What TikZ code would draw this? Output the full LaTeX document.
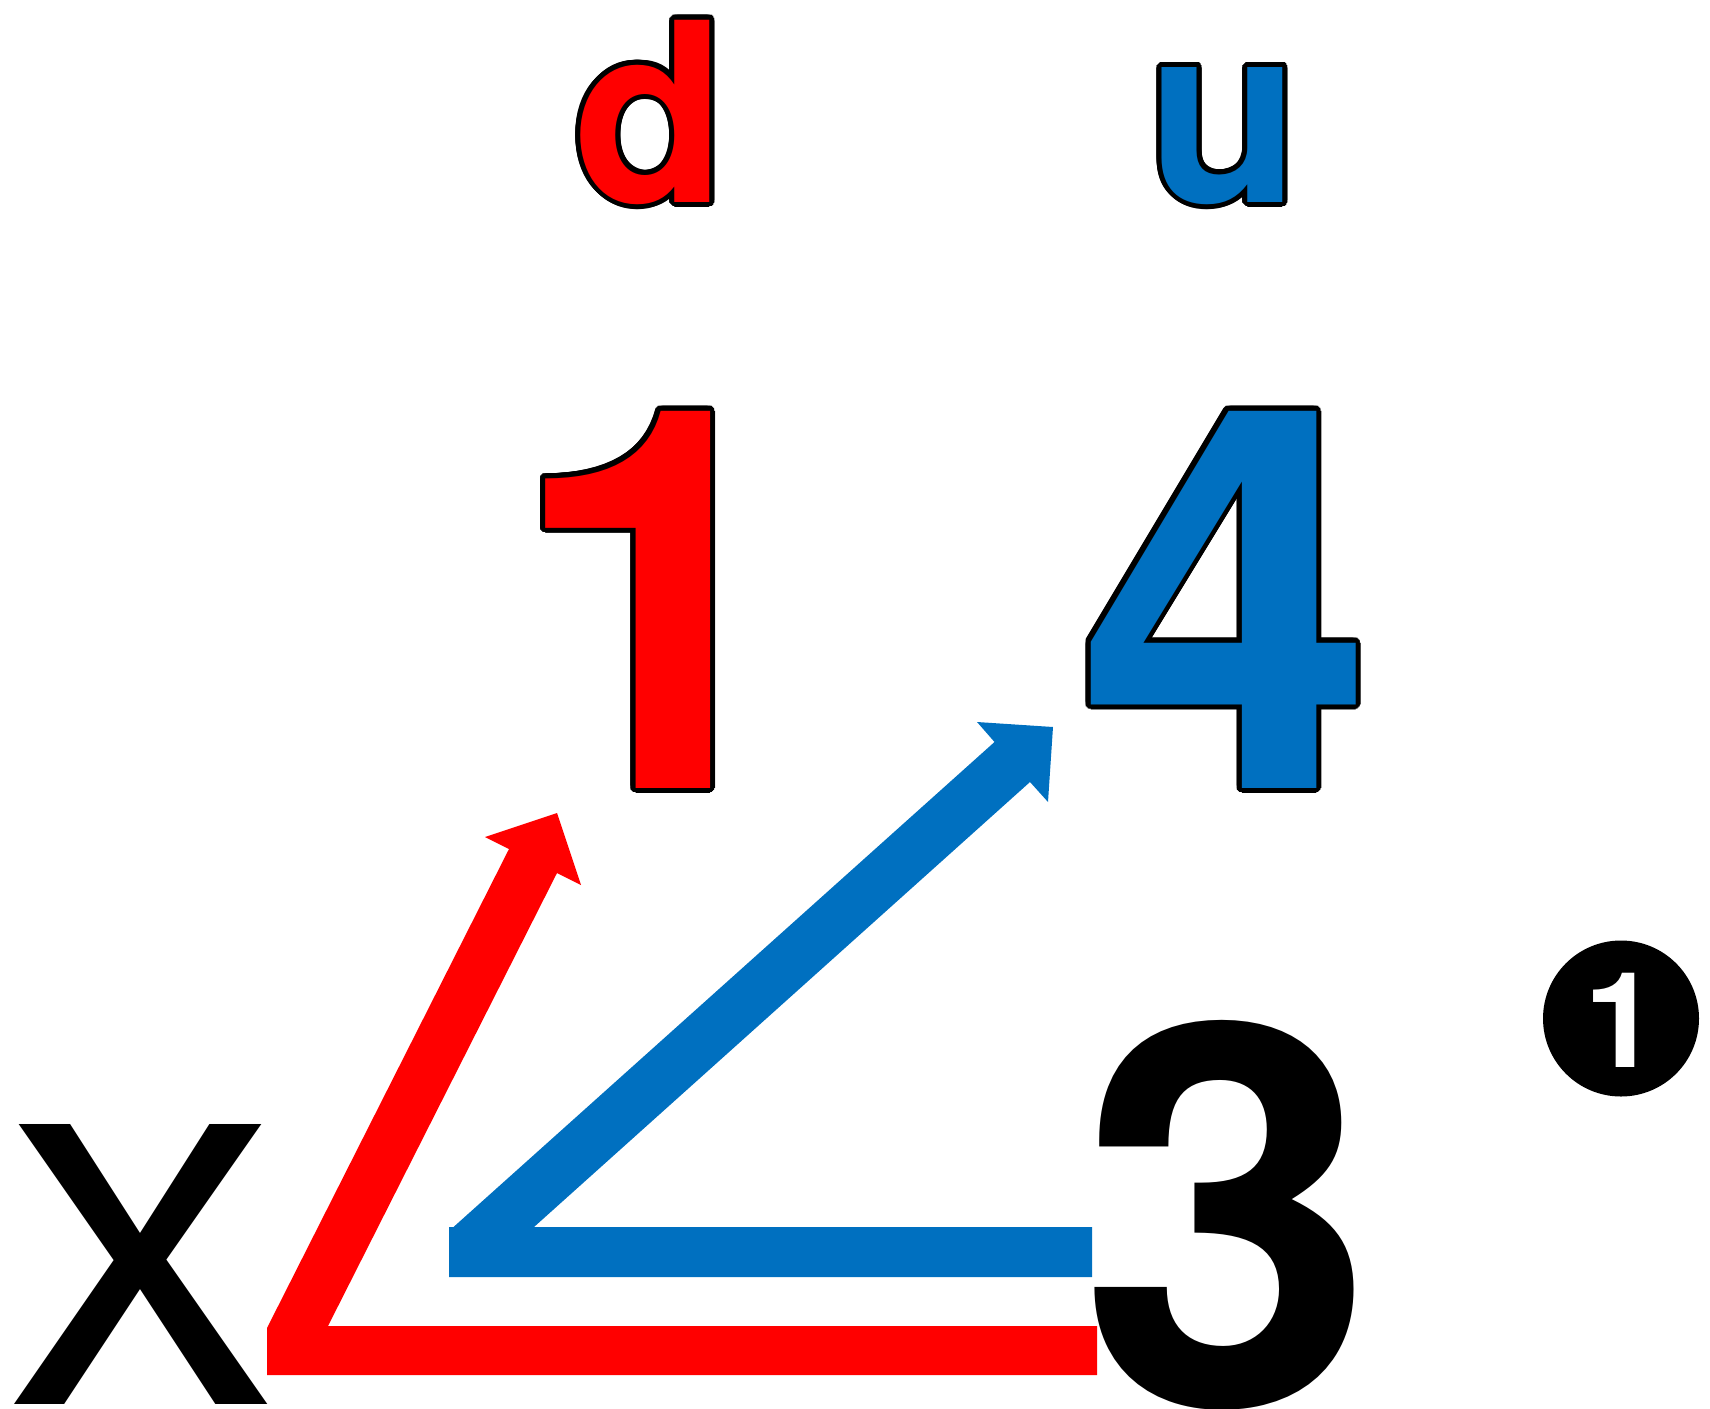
\documentclass[tikz,border=0pt]{standalone}
\usepackage{fontspec}
\setmainfont{Liberation Sans}
\newfontfamily\heros{TeX Gyre Heros}[BoldFont=* Bold]
\definecolor{myred}{RGB}{255,0,0}
\definecolor{myblue}{RGB}{0,112,192}
\begin{document}
\begin{tikzpicture}[x=1pt,y=-1pt,
  glyph/.style={inner sep=0pt, outer sep=0pt, anchor=base},
  bigbold/.style={font=\fontsize{532}{532}\selectfont\heros\bfseries},
  smallbold/.style={font=\fontsize{250}{250}\selectfont\heros\bfseries},
  bigreg/.style={font=\fontsize{530}{530}\selectfont},
  arrowshape/.style={draw=none},
]
\useasboundingbox (0,0) rectangle (1710,1408);
% black outlines of the coloured glyphs
\foreach \a [count=\i] in {0,15,...,345}{
  \node[glyph,smallbold,text=black,shift={(\a:5pt)}] (dc\i) at (650,202) {d};
  \node[glyph,smallbold,text=black,shift={(\a:5pt)}] (uc\i) at (1224,202) {u};
  \node[glyph,bigbold,text=black,shift={(\a:5pt)}] (onec\i) at (657,788) {1};
  \node[glyph,bigbold,text=black,shift={(\a:5pt)}] (fourc\i) at (1226,788) {4};
}
% coloured glyphs
\node[glyph,smallbold,text=myred] (d) at (650,202) {d};
\node[glyph,smallbold,text=myblue] (u) at (1224,202) {u};
\node[glyph,bigbold,text=myred] (one) at (657,788) {1};
\node[glyph,bigbold,text=myblue] (four) at (1226,788) {4};
% black glyphs
\node[glyph,bigreg,text=black] (x) at (141,1404) {x};
\node[glyph,bigbold,text=black] (three) at (1227,1405) {3};
% circled one
\node[circle,fill=black,minimum size=156pt,inner sep=0pt] (circ) at (1621,1018.5) {};
\node[glyph,font=\fontsize{133}{133}\selectfont\heros\bfseries,text=white] (circone) at (1621,1067) {1};
% angle arrows
\fill[myred,arrowshape] (1097,1326) -- (328,1326) -- (557,873) -- (581,885) -- (557,813)
  -- (485,837) -- (509,849) -- (267,1328) -- (267,1375) -- (1097,1375) -- cycle;
\fill[myblue,arrowshape] (1092,1227) -- (534,1227) -- (1030,782) -- (1048,802) -- (1053,727)
  -- (977,722) -- (994.5,742) -- (453.5,1227) -- (449,1227) -- (449,1277) -- (1092,1277) -- cycle;
\end{tikzpicture}
\end{document}
